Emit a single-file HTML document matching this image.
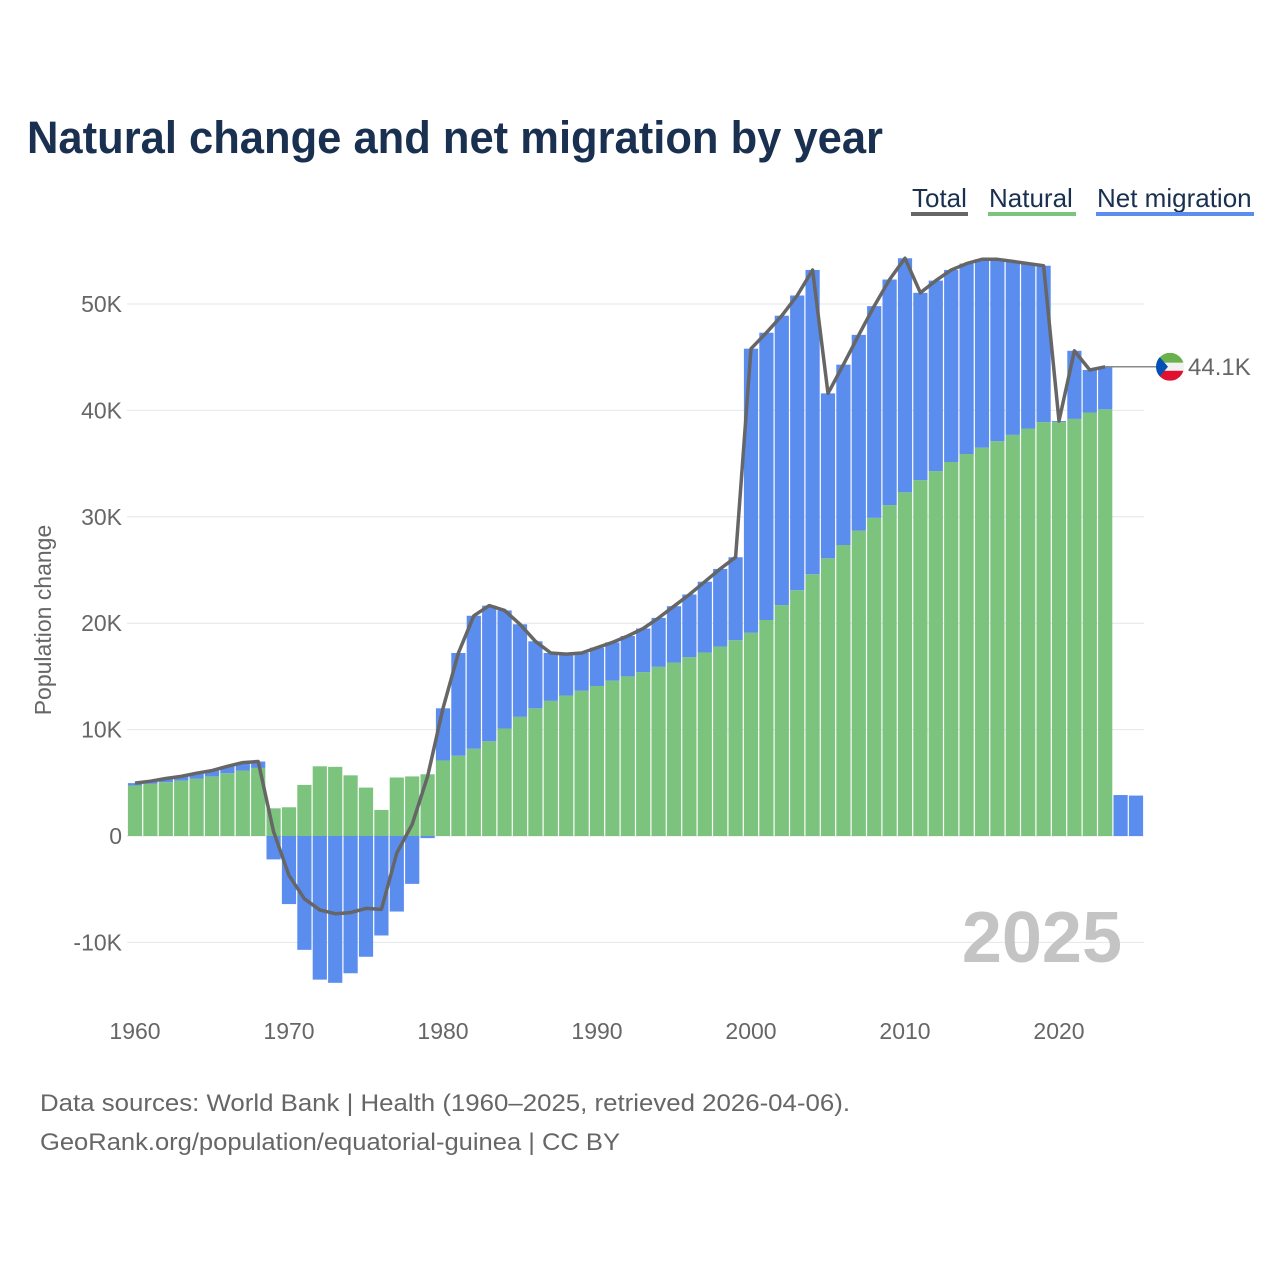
<!DOCTYPE html>
<html><head><meta charset="utf-8"><style>
body{margin:0;background:#fff;width:1280px;height:1280px;overflow:hidden;font-family:"Liberation Sans",sans-serif}
</style></head><body>
<svg id="c" width="1280" height="1280" xmlns="http://www.w3.org/2000/svg" font-family="Liberation Sans, sans-serif">
<text x="27" y="153" font-size="45" font-weight="bold" fill="#1a3050" textLength="856" lengthAdjust="spacingAndGlyphs">Natural change and net migration by year</text>
<g font-size="26" fill="#1a3050">
<g><text x="912" y="207">Total</text><rect x="911" y="212" width="57" height="4" fill="#666"/></g>
<g><text x="989" y="207">Natural</text><rect x="988" y="212" width="88" height="4" fill="#7cc47e"/></g>
<g><text x="1097" y="207">Net migration</text><rect x="1096" y="212" width="158" height="4" fill="#5b8def"/></g>
</g>
<g id="grid"></g>
<g id="yt" font-size="23" fill="#666" text-anchor="end"></g>
<g id="xt" font-size="23" fill="#666" text-anchor="middle"></g>
<text transform="translate(51,620) rotate(-90)" text-anchor="middle" font-size="23" fill="#666">Population change</text>
<text x="1122" y="962" text-anchor="end" font-size="72" font-weight="bold" fill="#c4c4c4">2025</text>
<g id="bars"></g>
<path id="line" fill="none" stroke="#666" stroke-width="3.5" stroke-linejoin="round"/>
<g>
<line id="annLine" x1="1113" x2="1156" stroke="#888" stroke-width="1.5"/>
<g id="flag">
<clipPath id="fc"><circle cx="1170" cy="0" r="14"/></clipPath>
<g clip-path="url(#fc)"><rect x="1156" y="-14" width="28" height="10" fill="#6ab04c"/><rect x="1156" y="-4" width="28" height="8" fill="#f2f2f2"/><rect x="1156" y="4" width="28" height="10" fill="#e0102f"/><path d="M1156,-14 L1168,0 L1156,14Z" fill="#0050b5"/></g>
</g>
<text id="annText" x="1188" font-size="24" fill="#666">44.1K</text>
</g>
<text x="40" y="1111" font-size="24" fill="#666" textLength="810" lengthAdjust="spacingAndGlyphs">Data sources: World Bank | Health (1960–2025, retrieved 2026-04-06).</text>
<text x="40" y="1150" font-size="24" fill="#666" textLength="580" lengthAdjust="spacingAndGlyphs">GeoRank.org/population/equatorial-guinea | CC BY</text>
</svg>
<script>
const years=[];for(let y=1960;y<=2025;y++)years.push(y);
const natural=[4.75,4.9,5.06,5.2,5.4,5.6,5.9,6.15,6.4,2.6,2.7,4.8,6.55,6.5,5.7,4.55,2.45,5.5,5.6,5.8,7.1,7.55,8.2,8.9,10.1,11.2,12.0,12.7,13.2,13.65,14.1,14.6,15.0,15.4,15.9,16.3,16.8,17.25,17.8,18.4,19.1,20.3,21.7,23.1,24.6,26.1,27.35,28.7,29.9,31.1,32.3,33.45,34.3,35.15,35.9,36.5,37.1,37.7,38.3,38.9,38.9,39.2,39.8,40.1,0,0];
const total=[4.97,5.15,5.4,5.6,5.9,6.15,6.55,6.9,7.0,0.4,-3.7,-5.9,-6.95,-7.3,-7.2,-6.8,-6.9,-1.6,1.1,5.6,12.0,17.2,20.7,21.65,21.2,19.9,18.3,17.2,17.1,17.2,17.7,18.2,18.8,19.5,20.5,21.6,22.7,23.9,25.1,26.2,45.8,47.3,48.9,50.8,53.2,41.6,44.3,47.1,49.8,52.3,54.3,51.05,52.2,53.2,53.8,54.2,54.2,54.0,53.8,53.6,39.0,45.6,43.8,44.1,3.85,3.8];
const lineYears=64; // total line drawn through 2023
const yTicks=[-10,0,10,20,30,40,50];
const yLabels=["-10K","0","10K","20K","30K","40K","50K"];
const xTicks=[1960,1970,1980,1990,2000,2010,2020];
const NS="http://www.w3.org/2000/svg";
const X=y=>135+(y-1960)*15.4;
const Y=v=>836-v*10.64;
function mk(t,a,p){const e=document.createElementNS(NS,t);for(const k in a)e.setAttribute(k,a[k]);p.appendChild(e);return e;}
const grid=document.getElementById('grid'),yt=document.getElementById('yt'),xt=document.getElementById('xt'),bars=document.getElementById('bars');
yTicks.forEach((v,i)=>{
 const l=mk('line',{x1:127,x2:1144,y1:Y(v),y2:Y(v),stroke:'#e6e6e6','stroke-width':1},grid);
 
 
 const t=mk('text',{x:122,y:Y(v)+8},yt);t.textContent=yLabels[i];
 
 
});
xTicks.forEach(y=>{
 const t=mk('text',{x:X(y),y:1039},xt);t.textContent=y;
 
 
});
const bw=14.2;
years.forEach((yr,i)=>{
 const n=natural[i],m=total[i]-n,x=X(yr)-bw/2;
 if(n!==0){
  const r=mk('rect',{x:x,y:Math.min(Y(n),Y(0)),width:bw,height:Math.abs(Y(n)-Y(0)),fill:'#7cc47e'},bars);
  
  
 }
 let y0,y1;
 if(m>=0){const base=Math.max(n,0);y0=Y(base+m);y1=Y(base);}
 else{const base=Math.min(n,0);y0=Y(base);y1=Y(base+m);}
 const r2=mk('rect',{x:x,y:y0,width:bw,height:Math.max(0,y1-y0),fill:'#5b8def'},bars);
 
 
});
let d='';for(let i=0;i<lineYears;i++)d+=(i?'L':'M')+X(years[i]).toFixed(1)+','+Y(total[i]).toFixed(1);
document.getElementById('line').setAttribute('d',d);
const last=lineYears-1,ly=Y(total[last]);
const al=document.getElementById('annLine');al.setAttribute('y1',ly);al.setAttribute('y2',ly);al.setAttribute('x1',X(years[last]));
document.getElementById('flag').setAttribute('transform','translate(0,'+ly+')');
const at=document.getElementById('annText');at.setAttribute('y',ly+8);at.textContent=total[last].toFixed(1)+'K';
</script>
</body></html>
